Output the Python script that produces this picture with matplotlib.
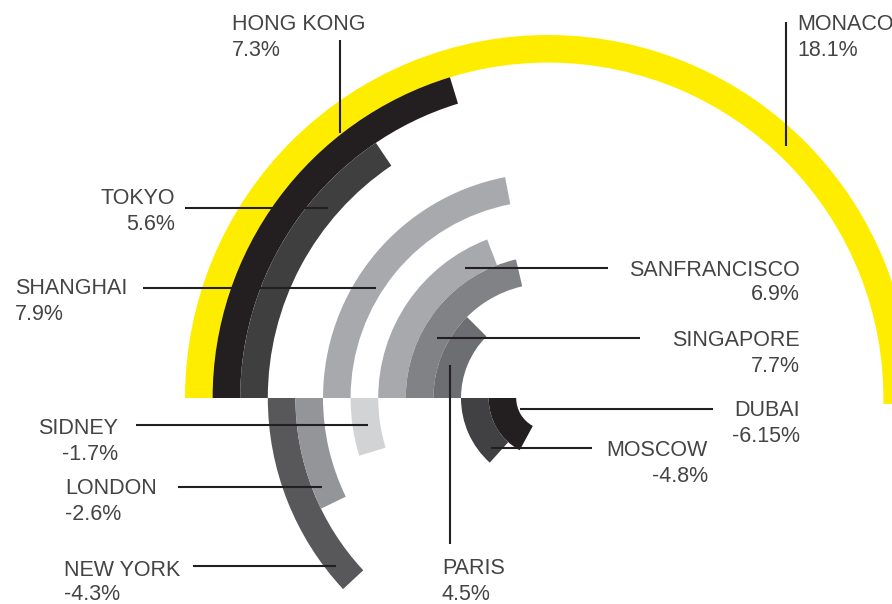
import matplotlib
matplotlib.use("Agg")
import matplotlib.pyplot as plt
from matplotlib.patches import Wedge

# data, rings listed from the outside in
cities = ["MONACO", "HONG KONG", "TOKYO", "NEW YORK", "LONDON", "SHANGHAI",
          "SIDNEY", "SANFRANCISCO", "SINGAPORE", "PARIS", "MOSCOW", "DUBAI"]
growth = [18.1, 7.3, 5.6, -4.3, -2.6, 7.9, -1.7, 6.9, 7.7, 4.5, -4.8, -6.15]
ring_colors = ["#ffed00", "#231f20", "#3f3f40", "#58585a", "#939598", "#a7a9ac",
               "#d1d3d4", "#a7a9ac", "#808285", "#6d6e71", "#414042", "#231f20"]

# layout (pixel coords, y down)
CX, CY = 548, 398
R_OUT, RING_W = 363, 27.6
DEG_PER_PCT = 10.0
INK = "#231f20"
TXT = "#444444"

# label anchor: (x, name_y, value_y, ha), leader: (x0, y0, x1, y1)
label_pos = {
    "MONACO":       (797, 22, 48, "left"),
    "HONG KONG":    (232, 22, 48, "left"),
    "TOKYO":        (175, 197, 223, "right"),
    "NEW YORK":     (64, 568, 593, "left"),
    "LONDON":       (65, 487, 513, "left"),
    "SHANGHAI":     (15, 287, 312, "left"),
    "SIDNEY":       (118, 427, 453, "right"),
    "SANFRANCISCO": (800, 268, 293, "right"),
    "SINGAPORE":    (800, 338, 365, "right"),
    "PARIS":        (442, 567, 592, "left"),
    "MOSCOW":       (708, 448, 475, "right"),
    "DUBAI":        (800, 409, 435, "right"),
}
leaders = {
    "MONACO":       (786, 22, 786, 146),
    "HONG KONG":    (340, 40, 340, 133),
    "TOKYO":        (185, 208, 328, 208),
    "NEW YORK":     (193, 566, 336, 566),
    "LONDON":       (178, 487, 322, 487),
    "SHANGHAI":     (143, 288, 376, 288),
    "SIDNEY":       (136, 425, 368, 425),
    "SANFRANCISCO": (465, 268, 608, 268),
    "SINGAPORE":    (437, 338, 640, 338),
    "PARIS":        (450, 365, 450, 544),
    "MOSCOW":       (491, 448, 592, 448),
    "DUBAI":        (520, 409, 713, 409),
}

fig = plt.figure(figsize=(8.92, 6.04), dpi=100)
ax = fig.add_axes([0, 0, 1, 1])
ax.set_xlim(0, 892)
ax.set_ylim(604, 0)
ax.set_aspect("equal")
ax.axis("off")

# y axis is inverted, so upward sweeps go from 180 towards 360
for i, (city, v, col) in enumerate(zip(cities, growth, ring_colors)):
    r = R_OUT - i * RING_W
    sweep = abs(v) * DEG_PER_PCT
    if v >= 0:
        t1, t2 = 180, 180 + sweep
    else:
        t1, t2 = 180 - sweep, 180
    ax.add_patch(Wedge((CX, CY), r, t1, t2, width=RING_W, facecolor=col,
                       edgecolor="none", antialiased=True))

for city, v in zip(cities, growth):
    x0, y0, x1, y1 = leaders[city]
    ax.plot([x0, x1], [y0, y1], color=INK, lw=1.5, solid_capstyle="butt")
    x, yn, yv, ha = label_pos[city]
    ax.text(x, yn + 7.5, city, ha=ha, va="baseline", fontsize=15.5,
            color=TXT, family="Liberation Sans")
    ax.text(x, yv + 7.5, f"{v:g}%", ha=ha, va="baseline", fontsize=15.5,
            color=TXT, family="Liberation Sans")

fig.savefig("out.png", dpi=100)
